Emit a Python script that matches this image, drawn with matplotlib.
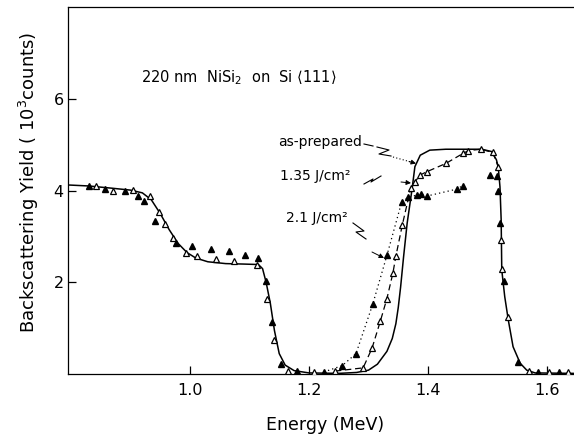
import matplotlib
matplotlib.use("Agg")
import matplotlib.pyplot as plt
from matplotlib.lines import Line2D

# ---------------- data ----------------
# as-prepared (solid curve)
E_prep = [0.798, 0.83, 0.87, 0.90, 0.92, 0.935, 0.95, 0.965, 0.98, 0.995, 1.01, 1.03,
          1.06, 1.09, 1.115, 1.122, 1.128, 1.135, 1.142, 1.150, 1.160, 1.175, 1.20,
          1.25, 1.28, 1.30, 1.315, 1.331, 1.340, 1.346, 1.350, 1.354, 1.359, 1.365,
          1.373, 1.378, 1.387, 1.403, 1.43, 1.46, 1.49, 1.507, 1.515, 1.518, 1.521,
          1.523, 1.524, 1.529, 1.535, 1.543, 1.555, 1.566, 1.58, 1.645]
Y_prep = [4.12, 4.10, 4.05, 4.01, 3.95, 3.80, 3.50, 3.15, 2.85, 2.65, 2.53, 2.45,
          2.41, 2.40, 2.39, 2.30, 2.00, 1.55, 0.95, 0.45, 0.20, 0.08, 0.03,
          0.02, 0.04, 0.09, 0.22, 0.50, 0.78, 1.10, 1.45, 1.90, 2.56, 3.29,
          4.01, 4.52, 4.77, 4.88, 4.90, 4.90, 4.90, 4.85, 4.67, 4.52, 4.08,
          3.36, 2.27, 1.69, 1.18, 0.60, 0.24, 0.09, 0.03, 0.02]

# 1.35 J/cm^2 (open triangles, dashed)
E_open = [0.842, 0.871, 0.904, 0.932, 0.948, 0.958, 0.972, 0.993, 1.012, 1.043, 1.074,
          1.112, 1.130, 1.141, 1.165, 1.209, 1.244, 1.291, 1.306, 1.320, 1.331, 1.341,
          1.346, 1.357, 1.371, 1.378, 1.387, 1.398, 1.430, 1.459, 1.468, 1.489, 1.509,
          1.518, 1.523, 1.525, 1.534, 1.569, 1.604, 1.635]
Y_open = [4.09, 3.99, 4.01, 3.89, 3.53, 3.27, 2.97, 2.63, 2.57, 2.51, 2.46,
          2.37, 1.64, 0.74, 0.07, 0.04, 0.07, 0.14, 0.57, 1.16, 1.65, 2.20,
          2.57, 3.26, 4.05, 4.19, 4.34, 4.41, 4.59, 4.81, 4.87, 4.90, 4.83,
          4.52, 2.92, 2.29, 1.25, 0.08, 0.06, 0.06]

# 2.1 J/cm^2 (filled triangles, dotted)
E_fill = [0.831, 0.858, 0.891, 0.913, 0.922, 0.942, 0.977, 1.003, 1.036, 1.065, 1.093,
          1.115, 1.128, 1.138, 1.153, 1.180, 1.225, 1.256, 1.279, 1.307, 1.331, 1.356,
          1.367, 1.381, 1.389, 1.398, 1.448, 1.459, 1.505, 1.516, 1.518, 1.521, 1.528,
          1.551, 1.585, 1.621]
Y_fill = [4.11, 4.03, 4.00, 3.89, 3.77, 3.34, 2.85, 2.79, 2.73, 2.68, 2.60,
          2.54, 2.04, 1.13, 0.22, 0.07, 0.05, 0.19, 0.45, 1.52, 2.59, 3.76,
          3.85, 3.90, 3.93, 3.88, 4.03, 4.11, 4.34, 4.32, 3.98, 3.29, 2.03,
          0.26, 0.06, 0.06]

# energy windows where the connecting dashed / dotted curves are visible
open_line_range = (1.24, 1.52)
fill_line_range = (1.22, 1.46)

x_ticks = [1.0, 1.2, 1.4, 1.6]
x_ticklabels = ["1.0", "1.2", "1.4", "1.6"]
y_ticks = [2, 4, 6]
y_ticklabels = ["2", "4", "6"]

# ---------------- figure ----------------
W, H = 574, 438
plt.rcParams['font.family'] = ['DejaVu Sans']
fig = plt.figure(figsize=(W / 100, H / 100), dpi=100)
ax = fig.add_axes([68 / W, 1 - 374.3 / H, (W - 68) / W, (374.3 - 7.3) / H])
ax.set_xlim(0.795, 1.6454)
ax.set_ylim(0, 7.99)

def window(E, Y, rng):
    pairs = [(e, y) for e, y in zip(E, Y) if rng[0] <= e <= rng[1]]
    return [p[0] for p in pairs], [p[1] for p in pairs]

ax.plot(E_prep, Y_prep, '-', color='k', lw=1.1, zorder=2)
eo, yo = window(E_open, Y_open, open_line_range)
ax.plot(eo, yo, ls=(0, (5, 3)), color='k', lw=0.9, zorder=2)
ef, yf = window(E_fill, Y_fill, fill_line_range)
ax.plot(ef, yf, ls=(0, (1, 2.5)), color='k', lw=0.9, zorder=2)
ax.plot(E_open, Y_open, ls='none', marker='^', ms=5, mfc='white', mec='k', mew=0.9, zorder=4)
ax.plot(E_fill, Y_fill, ls='none', marker='^', ms=5, color='k', zorder=5)

for s in ['top', 'left', 'bottom']:
    ax.spines[s].set_linewidth(0.9)
ax.spines['right'].set_visible(False)

ax.set_xticks(x_ticks)
ax.set_xticklabels(x_ticklabels)
ax.set_yticks(y_ticks)
ax.set_yticklabels(y_ticklabels)
ax.tick_params(direction='in', length=6, width=0.9, labelsize=11.5)
ax.tick_params(axis='x', pad=6)
ax.tick_params(axis='y', pad=3)

def P(x, y):
    return (x / W, 1 - y / H)

fig.text(*P(325, 425), "Energy (MeV)", ha='center', va='center', fontsize=12.5)
fig.text(*P(29, 182), "Backscattering Yield ( 10$^3$counts)", ha='center', va='center',
         rotation=90, fontsize=13)
fig.text(*P(141, 78), r"220 nm  NiSi$_2$  on  Si $\langle$111$\rangle$", ha='left',
         va='center', fontsize=10.5)
fig.text(*P(362, 142), "as-prepared", ha='right', va='center', fontsize=10)
fig.text(*P(350, 176), "1.35 J/cm²", ha='right', va='center', fontsize=10)
fig.text(*P(348, 218), "2.1 J/cm²", ha='right', va='center', fontsize=10)

def poly(pts, **kw):
    xs = [p[0] / W for p in pts]
    ys = [1 - p[1] / H for p in pts]
    fig.add_artist(Line2D(xs, ys, transform=fig.transFigure, color='k', **kw))

def arrow(p0, p1, ls='-'):
    ax.annotate('', xy=P(*p1), xytext=P(*p0), xycoords='figure fraction',
                textcoords='figure fraction',
                arrowprops=dict(arrowstyle='-|>', lw=0.7, ls=ls, color='k',
                                mutation_scale=7, shrinkA=0, shrinkB=0))

# as-prepared pointer
poly([(364, 144), (373, 146)], lw=0.8)
poly([(377, 147), (389, 150), (379, 154), (391, 156)], lw=0.8)
poly([(393, 157), (411, 162)], lw=0.8, ls=(0, (1, 2)))
arrow((409, 161.5), (416, 163.5))
# 1.35 pointer
poly([(364, 184), (373, 179), (371, 182), (381, 176)], lw=0.8)
arrow((401, 182), (411, 183))
# 2.1 pointer
poly([(353, 223), (364, 231), (356, 232), (366, 239)], lw=0.8)
arrow((372, 252), (384, 258))

fig.savefig("out.png", dpi=100)
